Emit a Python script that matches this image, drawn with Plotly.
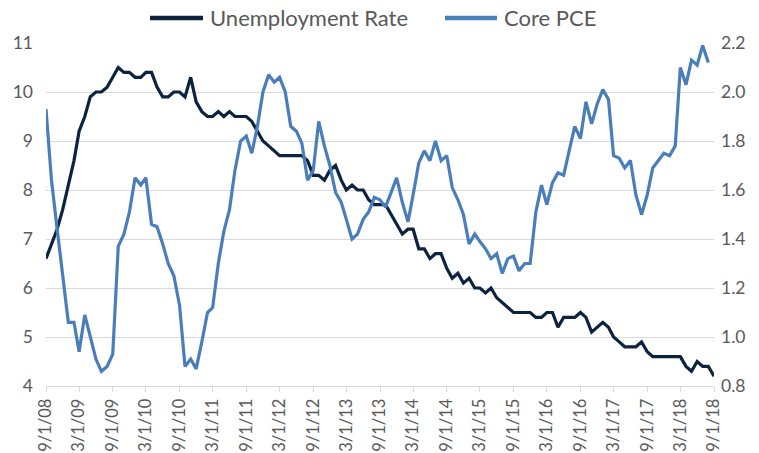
import pandas as pd
import plotly.graph_objects as go

# Monthly observations, 9/1/2008 .. 9/1/2018
start_date = "2008-09-01"
unemployment_rate = [
    6.6, 6.9, 7.2, 7.6, 8.1, 8.6, 9.2, 9.5, 9.9, 10.0, 10.0, 10.1,
    10.3, 10.5, 10.4, 10.4, 10.3, 10.3, 10.4, 10.4, 10.1, 9.9, 9.9, 10.0,
    10.0, 9.9, 10.3, 9.8, 9.6, 9.5, 9.5, 9.6, 9.5, 9.6, 9.5, 9.5,
    9.5, 9.4, 9.2, 9.0, 8.9, 8.8, 8.7, 8.7, 8.7, 8.7, 8.7, 8.6,
    8.3, 8.3, 8.2, 8.4, 8.5, 8.2, 8.0, 8.1, 8.0, 8.0, 7.8, 7.7,
    7.7, 7.7, 7.5, 7.3, 7.1, 7.2, 7.2, 6.8, 6.8, 6.6, 6.7, 6.7,
    6.4, 6.2, 6.3, 6.1, 6.2, 6.0, 6.0, 5.9, 6.0, 5.8, 5.7, 5.6,
    5.5, 5.5, 5.5, 5.5, 5.4, 5.4, 5.5, 5.5, 5.2, 5.4, 5.4, 5.4,
    5.5, 5.4, 5.1, 5.2, 5.3, 5.2, 5.0, 4.9, 4.8, 4.8, 4.8, 4.9,
    4.7, 4.6, 4.6, 4.6, 4.6, 4.6, 4.6, 4.4, 4.3, 4.5, 4.4, 4.4,
    4.2,
]
core_pce = [
    1.93, 1.64, 1.44, 1.26, 1.06, 1.06, 0.94, 1.09, 1.00, 0.91, 0.86, 0.88,
    0.93, 1.37, 1.42, 1.51, 1.65, 1.62, 1.65, 1.46, 1.45, 1.38, 1.30, 1.25,
    1.13, 0.88, 0.91, 0.87, 0.98, 1.10, 1.12, 1.30, 1.43, 1.52, 1.68, 1.80,
    1.82, 1.75, 1.86, 2.00, 2.07, 2.04, 2.06, 2.00, 1.86, 1.84, 1.79, 1.64,
    1.68, 1.88, 1.78, 1.70, 1.59, 1.55, 1.48, 1.40, 1.42, 1.48, 1.51, 1.57,
    1.56, 1.53, 1.59, 1.65, 1.55, 1.47, 1.58, 1.71, 1.76, 1.72, 1.80, 1.72,
    1.74, 1.61, 1.56, 1.50, 1.38, 1.42, 1.39, 1.36, 1.32, 1.34, 1.26, 1.32,
    1.33, 1.27, 1.30, 1.30, 1.51, 1.62, 1.54, 1.63, 1.67, 1.66, 1.76, 1.86,
    1.81, 1.96, 1.87, 1.95, 2.01, 1.97, 1.74, 1.73, 1.69, 1.72, 1.58, 1.50,
    1.58, 1.69, 1.72, 1.75, 1.74, 1.78, 2.10, 2.03, 2.13, 2.11, 2.19, 2.12,
]
series_names = ["Unemployment Rate", "Core PCE"]
series_colors = ["#0C2340", "#4A7EBB"]
left_ticks = [4, 5, 6, 7, 8, 9, 10, 11]
right_ticks = [0.8, 1.0, 1.2, 1.4, 1.6, 1.8, 2.0, 2.2]

dates = pd.date_range(start_date, periods=len(unemployment_rate), freq="MS")
tick_dates = dates[::6]

FONT = "Lato, 'Open Sans', sans-serif"
GRAY = "#595959"
GRID = "#d9d9d9"

fig = go.Figure()
fig.add_trace(go.Scatter(
    x=dates, y=unemployment_rate, name=series_names[0], mode="lines",
    line=dict(color=series_colors[0], width=3.2), cliponaxis=False, yaxis="y",
))
fig.add_trace(go.Scatter(
    x=dates[:len(core_pce)], y=core_pce, name=series_names[1], mode="lines",
    line=dict(color=series_colors[1], width=3.2), cliponaxis=False, yaxis="y2",
))

# Legend drawn at the top (line sample + label), in paper coordinates
legend_y = 1.073
legend_items = [(0.1557, 0.2350, 0.2425), (0.5973, 0.6751, 0.6826)]
for (x0, x1, xt), name, color in zip(legend_items, series_names, series_colors):
    fig.add_shape(type="line", xref="paper", yref="paper", x0=x0, x1=x1,
                  y0=legend_y, y1=legend_y, line=dict(color=color, width=4.5))
    fig.add_annotation(xref="paper", yref="paper", x=xt, y=legend_y, text=name,
                       showarrow=False, xanchor="left", yanchor="middle",
                       font=dict(family=FONT, size=22, color=GRAY))

fig.update_layout(
    width=759, height=453,
    margin=dict(l=46, r=45, t=43, b=67, autoexpand=False),
    paper_bgcolor="white", plot_bgcolor="white",
    font=dict(family=FONT, color=GRAY, size=16),
    showlegend=False,
    hovermode=False,
    xaxis=dict(
        type="date", range=[dates[0], dates[-1]],
        tickmode="array", tickvals=list(tick_dates),
        ticktext=[f"{d.month}/{d.day}/{d.strftime('%y')}" for d in tick_dates],
        tickangle=-90, ticks="outside", ticklen=5, tickcolor=GRID,
        showline=True, linecolor=GRID, linewidth=1,
        showgrid=False, zeroline=False,
        tickfont=dict(family=FONT, size=16.5, color=GRAY),
    ),
    yaxis=dict(
        range=[4, 11], tickmode="array", tickvals=left_ticks,
        ticktext=[str(v) for v in left_ticks],
        showgrid=True, gridcolor=GRID, gridwidth=1, zeroline=False,
        ticks="", ticklabelstandoff=12,
        tickfont=dict(family=FONT, size=17.5, color=GRAY),
    ),
    yaxis2=dict(
        range=[0.8, 2.2], overlaying="y", side="right",
        tickmode="array", tickvals=right_ticks,
        ticktext=[f"{v:.1f}" for v in right_ticks],
        showgrid=False, zeroline=False, ticks="", ticklabelstandoff=6,
        tickfont=dict(family=FONT, size=17.5, color=GRAY),
    ),
)

fig.write_html(
    "out.html",
    config={"displayModeBar": False, "staticPlot": True},
    post_script="document.body.style.margin='0';document.body.style.overflow='hidden';",
)
